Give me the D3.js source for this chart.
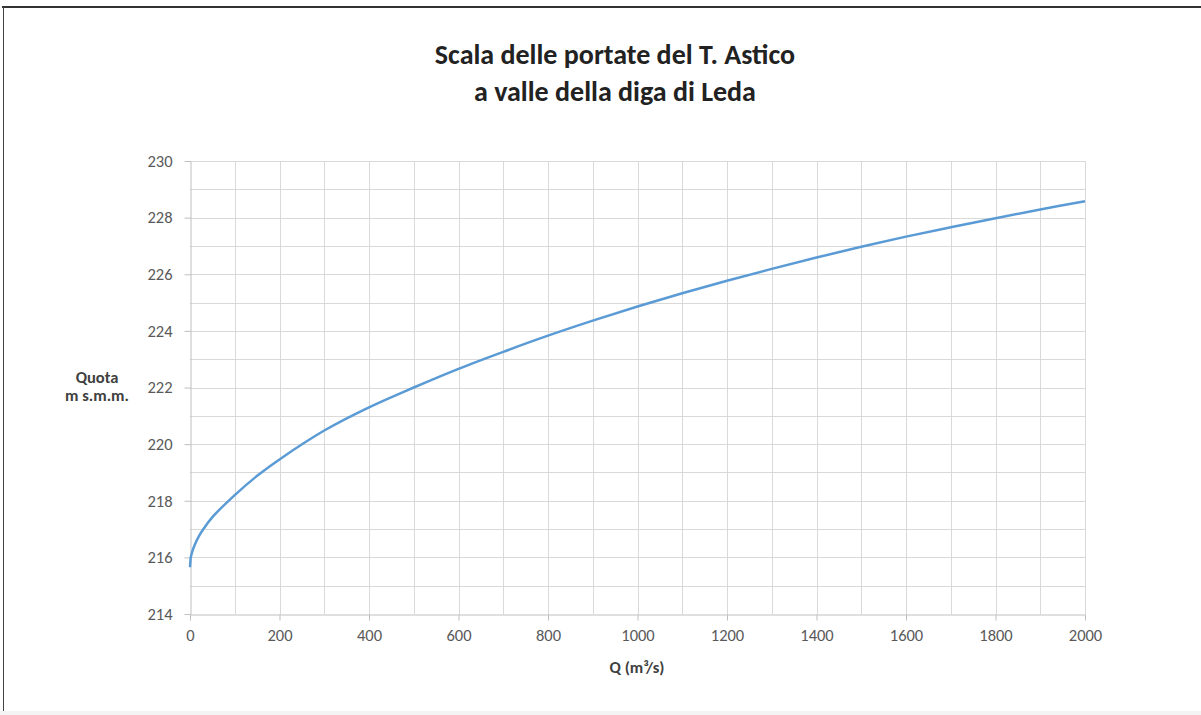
<!DOCTYPE html>
<html><head><meta charset="utf-8">
<script src="https://cdn.jsdelivr.net/npm/d3@7"></script>
<style>body{margin:0;background:#fff}svg{display:block}</style>
</head><body>
<script>
const titleLines = ["Scala delle portate del T. Astico", "a valle della diga di Leda"];
const xTicks = [0,200,400,600,800,1000,1200,1400,1600,1800,2000];
const yTicks = [214,216,218,220,222,224,226,228,230];
const discharge = [0,2,5,10,20,30,50,100,150,200,300,400,500,600,700,800,900,1000,1100,1200,1300,1400,1500,1600,1700,1800,1900,2000];
const stage = [215.65,216.02,216.2,216.42,216.75,217.0,217.42,218.2,218.88,219.46,220.48,221.3,222.0,222.66,223.26,223.83,224.36,224.86,225.33,225.77,226.19,226.59,226.97,227.33,227.66,227.98,228.29,228.58];

const W=1201,H=715;
const svg=d3.select("body").append("svg").attr("width",W).attr("height",H);
svg.append("rect").attr("width",W).attr("height",H).attr("fill","#fff");
// frame
svg.append("line").attr("x1",2).attr("x2",W).attr("y1",7).attr("y2",7).attr("stroke","#333").attr("stroke-width",2);
svg.append("line").attr("x1",3.5).attr("x2",3.5).attr("y1",7).attr("y2",H).attr("stroke","#444").attr("stroke-width",1);
svg.append("rect").attr("x",0).attr("y",711).attr("width",W).attr("height",4).attr("fill","#f4f4f4");

const x=d3.scaleLinear().domain([0,2000]).range([190,1085]);
const y=d3.scaleLinear().domain([214,230]).range([614,161]);
const font="Carlito, Lato, 'Liberation Sans', sans-serif";

// grid
const g=svg.append("g");
g.selectAll(".vg").data(d3.range(100,2001,100)).join("line")
 .attr("x1",d=>Math.round(x(d))+0.5).attr("x2",d=>Math.round(x(d))+0.5)
 .attr("y1",y(230)).attr("y2",y(214)).attr("stroke","#d9d9d9").attr("stroke-width",1);
g.selectAll(".hg").data(d3.range(215,231,1)).join("line")
 .attr("x1",x(0)).attr("x2",x(2000))
 .attr("y1",d=>Math.round(y(d))+0.5).attr("y2",d=>Math.round(y(d))+0.5)
 .attr("stroke","#d9d9d9").attr("stroke-width",1);

// axes
const xa=svg.append("g").attr("transform",`translate(0,${Math.round(y(214))+0.5})`)
 .call(d3.axisBottom(x).tickValues(xTicks).tickFormat(d3.format("d")).tickSize(6).tickPadding(9).tickSizeOuter(0));
const ya=svg.append("g").attr("transform",`translate(${Math.round(x(0))+0.5},0)`)
 .call(d3.axisLeft(y).tickValues(yTicks).tickFormat(d3.format("d")).tickSize(6).tickPadding(12).tickSizeOuter(0));
[xa,ya].forEach(a=>{
 a.selectAll("path,line").attr("stroke","#bfbfbf");
 a.selectAll("text").attr("fill","#595959").style("font-family",font).style("font-size","16.5px");
});

// line
svg.append("path").datum(discharge.map((q,i)=>[q,stage[i]]))
 .attr("fill","none").attr("stroke","#5b9bd5").attr("stroke-width",2.5)
 .attr("d",d3.line().x(d=>x(d[0])).y(d=>y(d[1])).curve(d3.curveCatmullRom.alpha(0.5)));

// titles
svg.selectAll(".tt").data(titleLines).join("text")
 .attr("x",615).attr("y",(d,i)=>64+i*37).attr("text-anchor","middle")
 .style("font-family",font).style("font-weight","bold").style("font-size","28px").attr("fill","#222").text(d=>d);
svg.append("text").attr("x",637).attr("y",673).attr("text-anchor","middle")
 .style("font-family",font).style("font-weight","bold").style("font-size","16.5px").attr("fill","#404040")
 .text("Q (m³/s)");
svg.selectAll(".yt").data(["Quota","m s.m.m."]).join("text")
 .attr("x",97).attr("y",(d,i)=>383+i*18).attr("text-anchor","middle")
 .style("font-family",font).style("font-weight","bold").style("font-size","16.5px").attr("fill","#404040").text(d=>d);
</script>
</body></html>
